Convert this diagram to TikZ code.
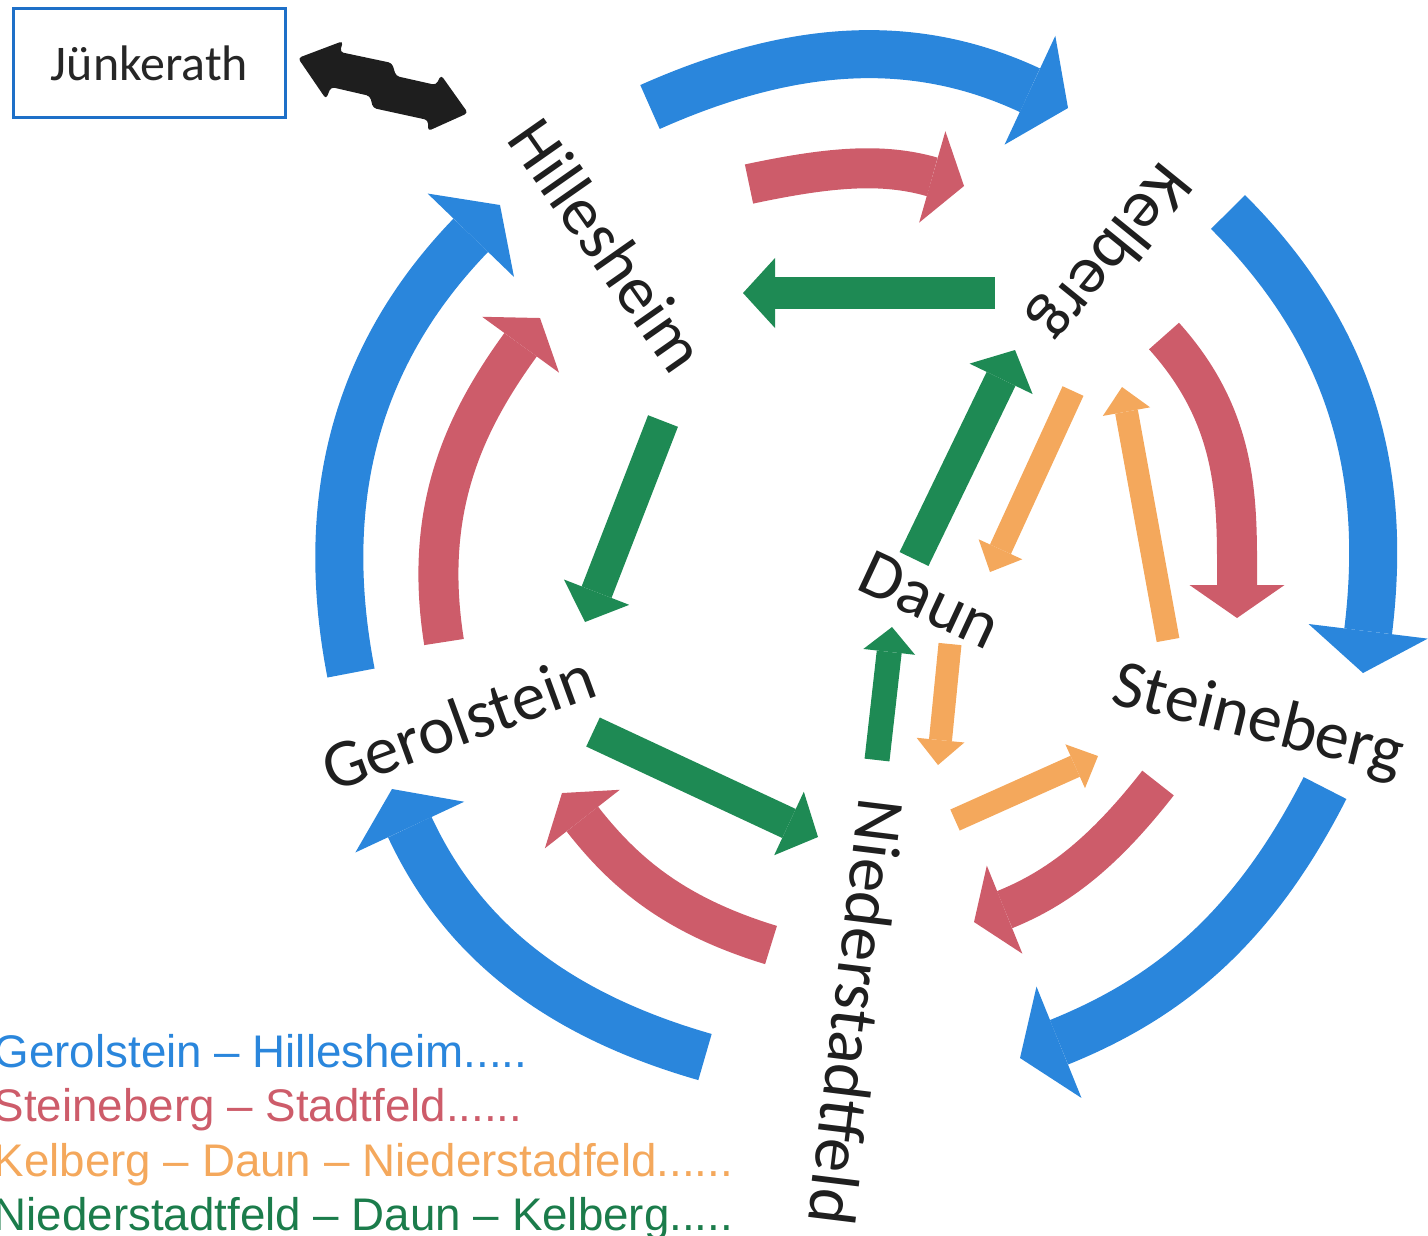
\documentclass[tikz,border=0pt]{standalone}
\usepackage{fontspec}
\setmainfont{Carlito}
\newfontfamily\legendfont[Ligatures=TeX]{Liberation Sans}
\usetikzlibrary{arrows.meta}

\definecolor{pfblau}{RGB}{42,134,220}
\definecolor{pfrot}{RGB}{205,92,106}
\definecolor{pfgruen}{RGB}{30,138,84}
\definecolor{pforange}{RGB}{244,168,92}
\definecolor{pfschwarz}{RGB}{30,30,30}
\definecolor{rahmenblau}{RGB}{30,112,200}

\begin{document}
\begin{tikzpicture}[x=0.01cm, y=0.01cm,
  ort/.style={inner sep=0pt, text=black!88, font=\fontsize{19.4}{23}\selectfont},
  legende/.style={inner sep=0pt, anchor=base west, font=\legendfont\fontsize{13}{15}\selectfont},
  blaupfeil/.style={draw=pfblau, line width=0.48cm, -{Triangle[length=0.42cm 0 0, width=1.2cm 0 0, line width=0pt 0 0]}},
  rotpfeil/.style={draw=pfrot, line width=0.40cm, -{Triangle[length=0.33cm 0 0, width=0.95cm 0 0, line width=0pt 0 0]}},
  gruenpfeil/.style={draw=pfgruen, line width=0.32cm, -{Triangle[length=0.32cm 0 0, width=0.70cm 0 0, line width=0pt 0 0]}},
  gruenklein/.style={draw=pfgruen, line width=0.25cm, -{Triangle[length=0.25cm 0 0, width=0.52cm 0 0, line width=0pt 0 0]}},
  orangepfeil/.style={draw=pforange, line width=0.23cm, -{Triangle[length=0.25cm 0 0, width=0.48cm 0 0, line width=0pt 0 0]}}]
\useasboundingbox (0,0) rectangle (1428,-1235);
\clip (0,0) rectangle (1428,-1235);

\node[draw=rahmenblau, line width=0.03cm, minimum width=2.72cm, minimum height=1.08cm, inner sep=0pt, text=black!85, font=\fontsize{14.2}{17}\selectfont] (juenkerath) at (149.5,-63) {Jünkerath};
\fill[pfschwarz, rounded corners=1pt] (298,-58) -- (343,-41) -- (340,-52) -- (392,-63) -- (396,-76) -- (436,-85) -- (441,-75) -- (468,-113) -- (428,-131) -- (428,-120) -- (373,-108) -- (370,-96) -- (331,-87) -- (326,-99) -- cycle;

\node[ort, rotate=-55] (hillesheim) at (608,-245) {Hillesheim};
\node[ort, rotate=-129] (kelberg) at (1110,-252) {Kelberg};
\node[ort, rotate=-25] (daun) at (930,-600) {Daun};
\node[ort, rotate=-14] (steineberg) at (1258,-722) {Steineberg};
\node[ort, rotate=20] (gerolstein) at (458,-722) {Gerolstein};
\node[ort, rotate=-97] (niederstadtfeld) at (857,-1012) {Niederstadtfeld};

% aussen
\path[blaupfeil] (650,-107) to[out=24,in=155] (1068,-108);
\path[blaupfeil] (1228,-212) to[out=-45,in=83] (1363,-673);
\path[blaupfeil] (1325,-788) to[out=-117,in=22] (1020,-1058);
\path[blaupfeil] (705,-1057) to[out=164,in=-65] (392,-789);
\path[blaupfeil] (351,-673) to[out=101,in=226] (500,-205);

% mitte
\path[rotpfeil] (749,-184) to[out=12,in=164] (964,-186);
\path[rotpfeil] (1164,-336) to[out=-48,in=90] (1237,-618);
\path[rotpfeil] (1158,-783) to[out=-128,in=22] (974,-922);
\path[rotpfeil] (771,-945) to[out=163,in=-52] (562,-793);
\path[rotpfeil] (444,-642) to[out=99,in=234] (540,-318);

% innen
\path[gruenpfeil] (995,-293) -- (743,-293);
\path[gruenpfeil] (663,-421) -- (585,-622);
\path[gruenpfeil] (593,-732) -- (818,-837);
\path[gruenklein] (877,-760) -- (892,-627);
\path[gruenpfeil] (914,-559) -- (1015,-350);

\path[orangepfeil] (1073,-391) -- (990,-572);
\path[orangepfeil] (1168,-640) -- (1122,-387);
\path[orangepfeil] (950,-644) -- (938,-765);
\path[orangepfeil] (955,-820) -- (1098,-756);

\node[legende, text=pfblau] (leg1) at (-7,-1067) {Gerolstein -- Hillesheim.....};
\node[legende, text=pfrot] (leg2) at (-7,-1121.5) {Steineberg -- Stadtfeld......};
\node[legende, text=pforange] (leg3) at (-7,-1176) {Kelberg -- Daun -- Niederstadfeld......};
\node[legende, text=pfgruen!90!black] (leg4) at (-7,-1230.5) {Niederstadtfeld -- Daun -- Kelberg.....};
\end{tikzpicture}
\end{document}
